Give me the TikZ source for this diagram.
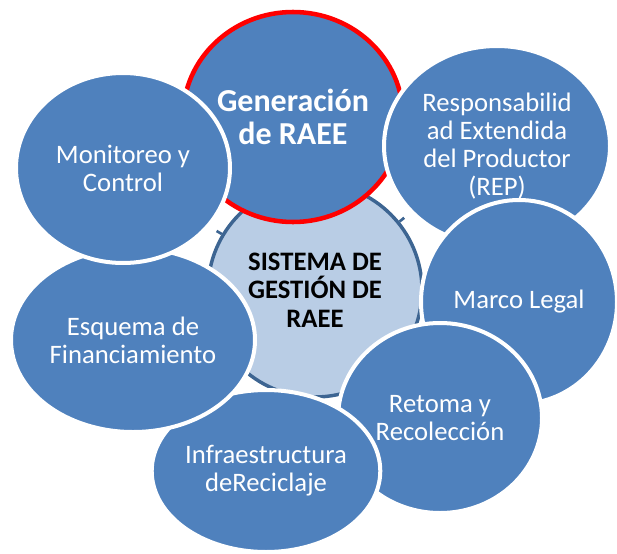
\documentclass[tikz,border=0pt]{standalone}
\usepackage{fontspec}
\setmainfont{Carlito}
\usetikzlibrary{shapes.geometric}

\tikzset{every picture/.style={line width=0.75pt}}
\tikzset{
	petal/.style={ellipse, inner sep=0pt, align=center,
		draw={rgb, 255:red, 255; green, 255; blue, 255 }, line width=3pt,
		fill={rgb, 255:red, 79; green, 129; blue, 189 },
		text={rgb, 255:red, 255; green, 255; blue, 255 },
		font=\fontsize{20}{21}\selectfont},
	hub/.style={circle, inner sep=0pt, align=center,
		draw={rgb, 255:red, 61; green, 101; blue, 146 }, line width=2.6pt,
		fill={rgb, 255:red, 185; green, 205; blue, 229 },
		font=\fontsize{20}{21.5}\selectfont\bfseries},
	stub/.style={draw={rgb, 255:red, 61; green, 101; blue, 146 }, line width=2pt}}

\begin{document}
\begin{tikzpicture}[x=0.75pt,y=0.75pt,yscale=-1,xscale=1]
	\useasboundingbox (0,0) rectangle (617,553);

	%Shape: Circle [hub]
	\node [hub, minimum size=160.5pt] (sgr) at (315,290) {SISTEMA DE\\GESTIÓN DE\\RAEE};
	%Straight Lines [stubs]
	\draw [stub] (sgr.149) -- ++(-5.2,-3.0) ;
	\draw [stub] (sgr.39) -- ++(4.7,-3.8) ;

	%Shape: Ellipse [generacion]
	\node [petal, draw={rgb, 255:red, 255; green, 0; blue, 0 }, line width=3.4pt,
		minimum width=165pt, minimum height=157.5pt, font=\fontsize{24}{25}\selectfont\bfseries]
		(gen) at (293,117) {Generación\\de RAEE};
	%Shape: Ellipse [rep]
	\node [petal, minimum width=169.5pt, minimum height=150pt] (rep) at (497,146)
		{Responsabilid\\ad Extendida\\del Productor\\(REP)};
	%Shape: Ellipse [marco]
	\node [petal, minimum width=147pt, minimum height=153pt] (marco) at (519,302) {Marco Legal};
	%Shape: Ellipse [retoma]
	\node [petal, minimum width=153pt, minimum height=142.5pt] (ret) at (440,418) {Retoma y\\Recolección};
	%Shape: Ellipse [infra]
	\node [petal, minimum width=171pt, minimum height=121.5pt] (inf) at (266,471) {Infraestructura\\deReciclaje};
	%Shape: Ellipse [esquema]
	\node [petal, minimum width=183pt, minimum height=138pt] (esq) at (133,340) {Esquema de\\Financiamiento};
	%Shape: Ellipse [monitoreo]
	\node [petal, minimum width=160.5pt, minimum height=142.5pt] (mon) at (123,168) {Monitoreo y\\Control};

\end{tikzpicture}
\end{document}
